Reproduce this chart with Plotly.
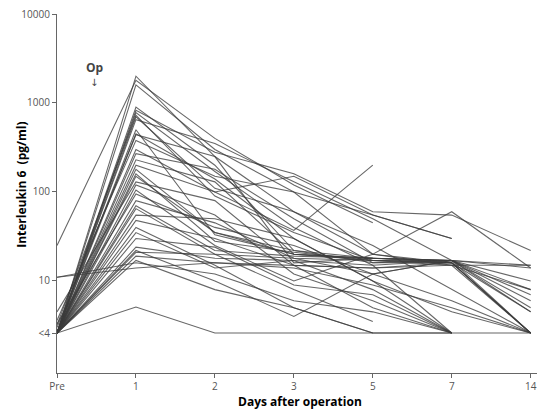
import plotly.graph_objects as go

# Categories (days after operation); plotted at equal spacing
days = ["Pre", "1", "2", "3", "5", "7", "14"]

# "<4" (below detection limit) is drawn at this level on the log axis
LOW = 2.6

# Interleukin-6 (pg/ml) per patient: [Pre, 1, 2, 3, 5, 7, 14]
p01 = [LOW, 2000, 250, 60, 20, 15, 8]
p02 = [LOW, 1600, 300, 100, 55, 30, None]
p03 = [LOW, 830, 280, 160, 60, 55, 22]
p04 = [LOW, 780, 170, 40, 15, LOW, None]
p05 = [3.2, 730, 90, 35, 17, 17, LOW]
p06 = [LOW, 650, 350, 130, 50, 17, 5]
p07 = [LOW, 500, 33, 20, 17, 16, None]
p08 = [LOW, 450, 140, 30, 10, LOW, None]
p09 = [3.6, 380, 150, 100, 20, 60, 14]
p10 = [LOW, 300, 100, 37, 200, None, None]
p11 = [LOW, 230, 130, 20, 18, 17, 14]
p12 = [LOW, 180, 35, 20, 18, 16, LOW]
p13 = [LOW, 150, 35, 22, 18, 17, 10]
p14 = [4.5, 130, 80, 15, 5, LOW, None]
p15 = [LOW, 105, 25, 10, 20, 16, LOW]
p16 = [LOW, 80, 45, 18, 12, 6, LOW]
p17 = [LOW, 65, 20, 8, 3.5, None, None]
p18 = [LOW, 48, 30, 15, 14, 16, LOW]
p19 = [LOW, 40, 15, 5, LOW, None, None]
p20 = [LOW, 35, 14, 17, 8, LOW, None]
p21 = [LOW, 24, 18, 17, 15, 17, 4.5]
p22 = [LOW, 21, 20, 18, 17, 16, None]
p23 = [LOW, 19, 16, 14, 9, 5, LOW]
p24 = [11, 16, 12, 6, 4.5, LOW, None]
p25 = [LOW, 5.1, LOW, LOW, LOW, LOW, LOW]
p26 = [11, 14, 16, 15, 14, 15, 15]
p27 = [25, 1800, 400, 120, 45, None, None]
p28 = [LOW, 900, 200, 22, 16, 17, 7]
p29 = [LOW, 700, 110, 60, 25, 8, LOW]
p30 = [LOW, 270, 180, 50, 16, 16, 4.5]
p31 = [LOW, 200, 100, 150, 55, 30, None]
p32 = [LOW, 160, 28, 21, 17, 15, LOW]
p33 = [LOW, 120, 55, 12, 6, LOW, None]
p34 = [3.3, 95, 40, 25, 12, 17, 8]
p35 = [LOW, 70, 22, 19, 18, 17, 15]
p36 = [LOW, 55, 50, 30, 10, 4.5, LOW]
p37 = [LOW, 30, 24, 9, 7, LOW, None]
p38 = [LOW, 22, 10, 4, 12, 17, None]
p39 = [LOW, 17, 8, 5, LOW, LOW, None]
p40 = [3.0, 440, 250, 16, 18, 17, 6]

patients = [p01, p02, p03, p04, p05, p06, p07, p08, p09, p10,
            p11, p12, p13, p14, p15, p16, p17, p18, p19, p20,
            p21, p22, p23, p24, p25, p26, p27, p28, p29, p30,
            p31, p32, p33, p34, p35, p36, p37, p38, p39, p40]

y_tickvals = [LOW, 10, 100, 1000, 10000]
y_ticktext = ["<4", "10", "100", "1000", "10000"]

xpos = list(range(len(days)))

fig = go.Figure()
for vals in patients:
    fig.add_trace(go.Scatter(
        x=xpos, y=vals, mode="lines",
        line=dict(color="rgba(60,60,60,0.78)", width=1.1),
        connectgaps=False, showlegend=False, hoverinfo="skip"))

axis_color = "#666666"
tick_font = dict(family="Open Sans, Arial, sans-serif", size=10, color="#555555")
title_font = dict(family="Open Sans, Arial, sans-serif", size=12, color="black")

fig.update_layout(
    width=542, height=410,
    margin=dict(l=57, r=5, t=14, b=37, autoexpand=False),
    paper_bgcolor="white", plot_bgcolor="white",
    showlegend=False,
    xaxis=dict(
        range=[0, 6.08], tickmode="array", tickvals=xpos, ticktext=days,
        showgrid=False, zeroline=False, showline=True, linecolor=axis_color,
        linewidth=1.2, ticks="outside", ticklen=4, tickcolor=axis_color,
        tickfont=tick_font, ticklabeloverflow="allow", automargin=False),
    yaxis=dict(
        type="log", range=[-0.034, 4.0], tickmode="array",
        tickvals=y_tickvals, ticktext=y_ticktext,
        showgrid=False, zeroline=False, showline=True, linecolor=axis_color,
        linewidth=1.2, ticks="outside", ticklen=4, tickcolor=axis_color,
        tickfont=tick_font, ticklabeloverflow="allow", automargin=False),
    annotations=[
        dict(text="<b>Days after operation</b>", xref="paper", yref="paper",
             x=0.506, y=-0.08, xanchor="center", yanchor="middle", showarrow=False,
             font=title_font),
        dict(text="<b>Interleukin 6  (pg/ml)</b>", xref="paper", yref="paper",
             x=-0.073, y=0.524, xanchor="center", yanchor="middle", showarrow=False,
             textangle=-90, font=title_font),
        dict(text="<b>Op</b>", xref="paper", yref="paper", x=0.079, y=0.85,
             xanchor="center", yanchor="middle", showarrow=False,
             font=dict(family="Open Sans, Arial, sans-serif", size=12, color="#444444")),
        dict(text="↓", xref="paper", yref="paper", x=0.077, y=0.808,
             xanchor="center", yanchor="middle", showarrow=False,
             font=dict(family="DejaVu Sans, sans-serif", size=10, color="#444444")),
    ],
)

fig.write_html("out.html",
               config={"displayModeBar": False},
               post_script="document.body.style.margin='0';"
                           "document.documentElement.style.overflow='hidden';")
